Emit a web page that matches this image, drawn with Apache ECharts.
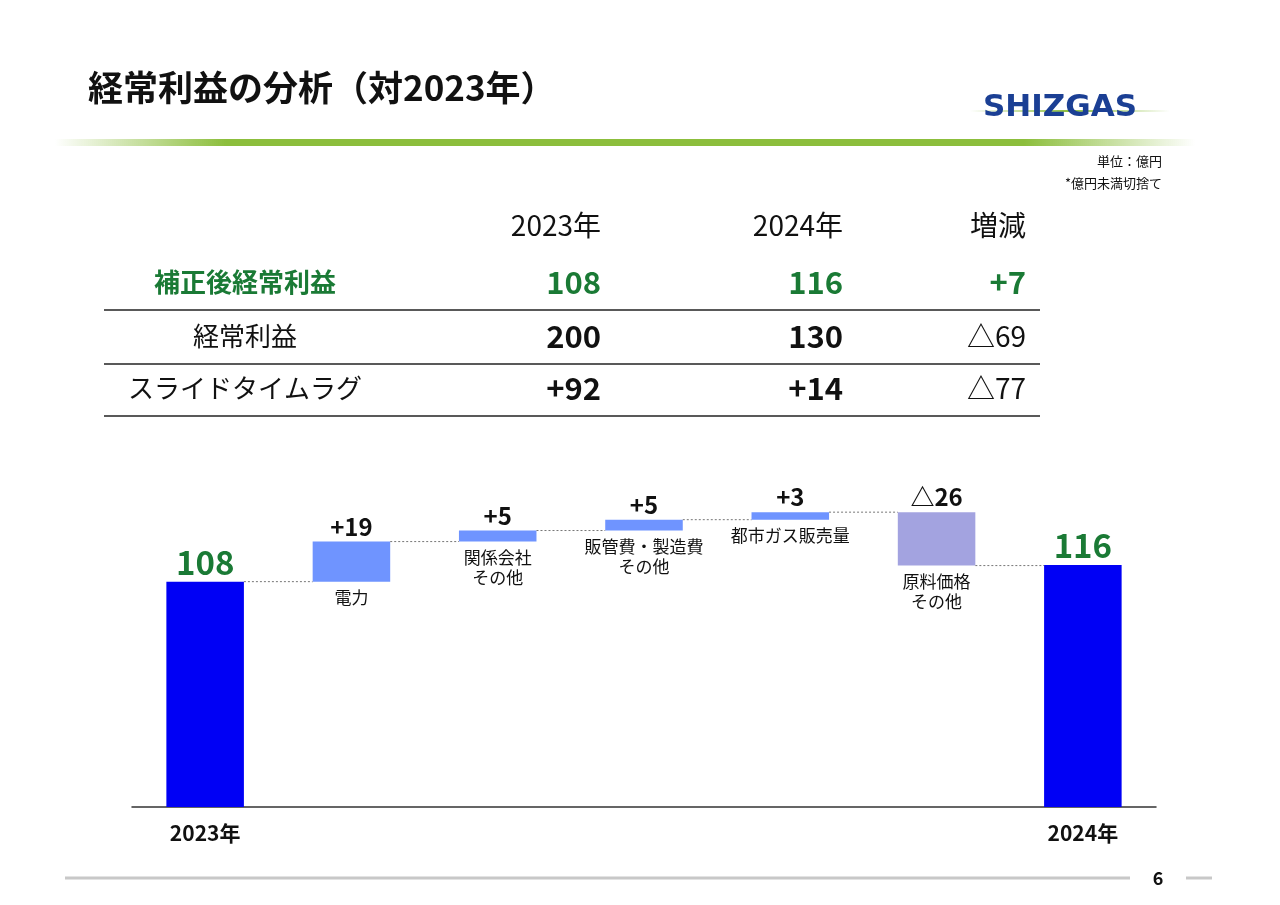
<!DOCTYPE html>
<html><head><meta charset="utf-8">
<script src="https://cdn.jsdelivr.net/npm/echarts@6/dist/echarts.min.js"></script>
<style>html,body{margin:0;padding:0;background:#fff}#c{width:1280px;height:905px}</style>
</head><body><div id="c"></div>
<script>
const categories = ['2023年','電力','関係会社\nその他','販管費・製造費\nその他','都市ガス販売量','原料価格\nその他','2024年'];
const startTotal = 108;
const deltas = [19.2, 5.3, 5.2, 3.6, -25.6];
const endTotal = 116;
const valueLabels = ['108','+19','+5','+5','+3','△26','116'];
const tableHeaders = ['2023年','2024年','増減'];
const tableRows = [
  ['補正後経常利益','108','116','+7'],
  ['経常利益','200','130','△69'],
  ['スライドタイムラグ','+92','+14','△77']
];

const bars = [];
bars.push([0, startTotal, 'total']);
let run = startTotal;
deltas.forEach(d => { const n = run + d; bars.push([Math.min(run,n), Math.max(run,n), d>=0?'up':'down']); run = n; });
bars.push([0, endTotal, 'total']);
const levels = [startTotal];
run = startTotal; deltas.forEach(d => { run += d; levels.push(run); });
levels.push(endTotal);

const chart = echarts.init(document.getElementById('c'));
const green = '#1a7a35';
const F = '"Noto Sans CJK JP","Noto Sans",sans-serif';

const g = [];
g.push({type:'text', left:88, top:70, style:{text:'経常利益の分析（対2023年）', font:'bold 35px '+F, fill:'#111'}});
g.push({type:'rect', shape:{x:55,y:139,width:1140,height:7}, style:{fill:new echarts.graphic.LinearGradient(0,0,1,0,[{offset:0,color:'rgba(140,190,60,0)'},{offset:0.15,color:'#8cbe3c'},{offset:0.85,color:'#8cbe3c'},{offset:1,color:'rgba(140,190,60,0)'}])}});
g.push({type:'rect', shape:{x:970,y:110,width:200,height:2}, style:{fill:new echarts.graphic.LinearGradient(0,0,1,0,[{offset:0,color:'rgba(140,190,60,0)'},{offset:0.5,color:'#8cbe3c'},{offset:1,color:'rgba(140,190,60,0)'}])}});
g.push({type:'text', left:983, top:92, style:{text:'SHIZGAS', font:'900 31px "DejaVu Sans",sans-serif', fill:'#1b3f94'}});
g.push({type:'text', right:118, top:155, style:{text:'単位：億円', font:'13px '+F, fill:'#111', align:'right'}});
g.push({type:'text', right:118, top:177, style:{text:'*億円未満切捨て', font:'13px '+F, fill:'#111', align:'right'}});
const colX = [601, 843, 1026];
tableHeaders.forEach((h,i)=>g.push({type:'text', x:colX[i], y:225, style:{text:h, font:'28px '+F, fill:'#111', align:'right', verticalAlign:'middle'}}));
const rowY = [282, 336, 388];
tableRows.forEach((r,ri)=>{
  const isG = ri===0;
  g.push({type:'text', x:245, y:rowY[ri], style:{text:r[0], font:(isG?'bold 26px ':'26px ')+F, fill:isG?green:'#111', align:'center', verticalAlign:'middle'}});
  for(let k=1;k<4;k++){
    const bold = isG || k<3;
    g.push({type:'text', x:colX[k-1], y:rowY[ri], style:{text:r[k], font:(bold?'bold 31px ':'28px ')+F, fill:isG?green:'#111', align:'right', verticalAlign:'middle'}});
  }
  g.push({type:'line', shape:{x1:104,y1:rowY[ri]+28,x2:1040,y2:rowY[ri]+28}, style:{stroke:'#222', lineWidth:1.5}});
});
g.push({type:'line', shape:{x1:65,y1:878,x2:1130,y2:878}, style:{stroke:'#c8c8c8', lineWidth:3}});
g.push({type:'line', shape:{x1:1186,y1:878,x2:1212,y2:878}, style:{stroke:'#c8c8c8', lineWidth:3}});
g.push({type:'text', x:1158, y:878, style:{text:'6', font:'bold 18px '+F, fill:'#111', align:'center', verticalAlign:'middle'}});

chart.setOption({
  animation:false,
  graphic:g,
  grid:{left:132, right:124, top:494, bottom:98},
  xAxis:{type:'category', data:categories, axisTick:{show:false},
    axisLine:{lineStyle:{color:'#333', width:1.5}},
    axisLabel:{margin:16, formatter:(v,i)=> (i===0||i===categories.length-1)? v : '', fontWeight:'bold', fontSize:21, color:'#111', fontFamily:F}},
  yAxis:{type:'value', min:0, max:150, show:false},
  series:[{
    type:'custom',
    data: bars.map((b,i)=>[i,b[0],b[1]]),
    renderItem:(params, api)=>{
      const i = api.value(0), lo = api.value(1), hi = api.value(2);
      const kind = bars[i][2];
      const w = api.size([1,0])[0]*0.53;
      const pTop = api.coord([i, hi]), pBot = api.coord([i, lo]);
      const x = pTop[0]-w/2;
      const color = kind==='total' ? '#0000f5' : (kind==='up' ? '#6f94ff' : '#a3a3e0');
      const children = [{type:'rect', shape:{x, y:pTop[1], width:w, height:pBot[1]-pTop[1]}, style:{fill:color}}];
      const isTotal = kind==='total';
      children.push({type:'text', style:{text:valueLabels[i], x:pTop[0], y:pTop[1]-3, align:'center', verticalAlign:'bottom',
        font:(isTotal?'bold 33px ':'bold 24px ')+F, fill:isTotal?green:'#111'}});
      if(!isTotal){
        children.push({type:'text', style:{text:categories[i], x:pTop[0], y:pBot[1]+6, align:'center', verticalAlign:'top', font:'17px '+F, fill:'#111', lineHeight:20}});
      }
      if(i < bars.length-1){
        const lv = levels[i];
        const a = api.coord([i, lv]), b = api.coord([i+1, lv]);
        children.push({type:'line', shape:{x1:a[0]+w/2, y1:a[1], x2:b[0]-w/2, y2:a[1]}, style:{stroke:'#777', lineWidth:1, lineDash:[2,2]}});
      }
      return {type:'group', children};
    }
  }]
});
</script></body></html>
